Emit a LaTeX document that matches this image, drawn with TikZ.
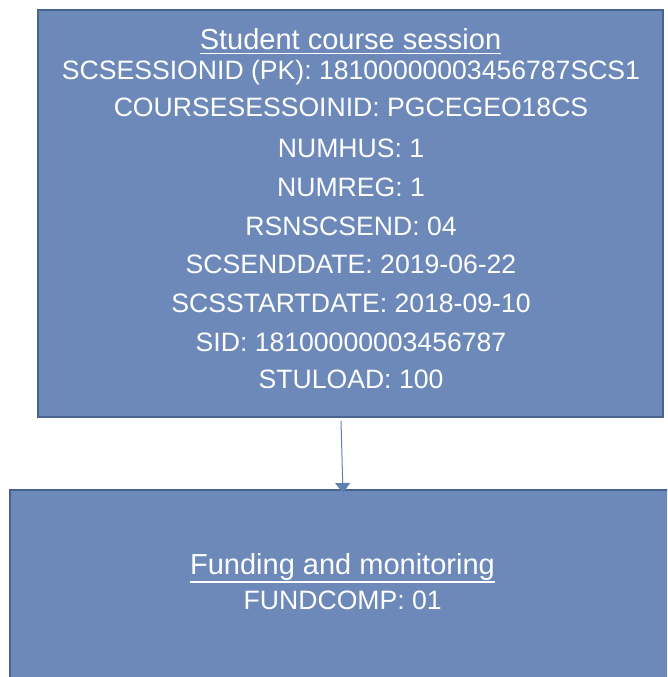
\documentclass[tikz,border=0pt]{standalone}
\usepackage{fontspec}
\setmainfont{Liberation Sans}
\usetikzlibrary{arrows.meta}
\definecolor{boxfill}{RGB}{108,137,186}
\definecolor{boxline}{RGB}{72,99,143}
\definecolor{arrowcol}{RGB}{96,128,180}
\tikzset{
  box/.style={draw=boxline,line width=2pt,fill=boxfill},
  txt/.style={text=white,inner sep=0pt,anchor=base,font=\fontsize{26.6}{30}\selectfont},
  ttl/.style={text=white,inner sep=0pt,anchor=base,font=\fontsize{29}{32}\selectfont},
  uline/.style={draw=white,line width=1.8pt},
  conn/.style={draw=arrowcol,line width=1pt,-{Triangle[width=15pt,length=10pt]}}
}
\begin{document}
\begin{tikzpicture}[x=1pt,y=-1pt]
\useasboundingbox (0,0) rectangle (667,677);
\clip (0,0) rectangle (667,677);
\draw[box] (38,10) rectangle (663,417);
\node[draw=none,inner sep=0,minimum size=0] (a) at (350.5,213.5) {};
\coordinate (aS) at (341,421);
\draw[box] (10,490) rectangle (677,700);
\coordinate (bN) at (343,493);
\node[ttl] (t1) at (350.5,49) {Student course session};
\draw[uline] ([yshift=-4.5pt]t1.base west) -- ([yshift=-4.5pt]t1.base east);
\node[txt] (l1) at (351,80) {SCSESSIONID (PK): 18100000003456787SCS1};
\node[txt] (l2) at (351,116) {COURSESESSOINID: PGCEGEO18CS};
\node[txt] (l3) at (351,157) {NUMHUS: 1};
\node[txt] (l4) at (351,196) {NUMREG: 1};
\node[txt] (l5) at (351,235) {RSNSCSEND: 04};
\node[txt] (l6) at (351,273) {SCSENDDATE: 2019-06-22};
\node[txt] (l7) at (351,312) {SCSSTARTDATE: 2018-09-10};
\node[txt] (l8) at (351,351) {SID: 18100000003456787};
\node[txt] (l9) at (351,388) {STULOAD: 100};
\node[ttl] (t2) at (342.5,574) {Funding and monitoring};
\draw[uline] ([yshift=-8pt]t2.base west) -- ([yshift=-8pt]t2.base east);
\node[txt] (m1) at (342.7,609) {FUNDCOMP: 01};
\draw[conn] (aS) -- (bN);
\end{tikzpicture}
\end{document}
